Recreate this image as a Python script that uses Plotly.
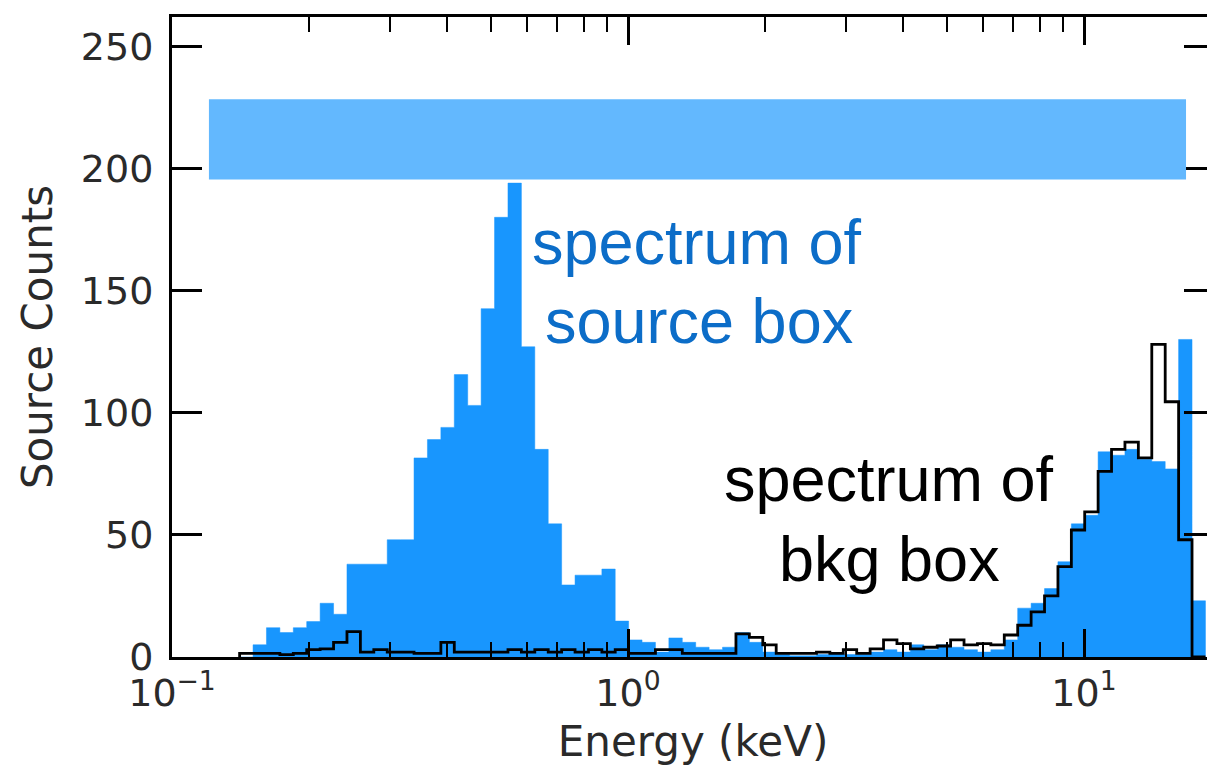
import math
import plotly.graph_objects as go

# Bin edges (keV) (log-spaced bins)
bin_edges = [
    0.14070, 0.15057, 0.16112, 0.17242, 0.18451, 0.19743, 0.21128, 0.22610,
    0.24194, 0.25890, 0.27706, 0.29648, 0.31724, 0.33944, 0.36325, 0.38871,
    0.41596, 0.44513, 0.47634, 0.50972, 0.54547, 0.58369, 0.62462, 0.66841,
    0.71525, 0.76541, 0.81906, 0.87646, 0.93745, 1.0032, 1.0735, 1.1487,
    1.2292, 1.3154, 1.4076, 1.5063, 1.6118, 1.7248, 1.8457, 1.9751,
    2.1135, 2.2617, 2.4202, 2.5898, 2.7714, 2.9657, 3.1735, 3.3960,
    3.6340, 3.8887, 4.1613, 4.4530, 4.7651, 5.0991, 5.4565, 5.8390,
    6.2483, 6.6862, 7.1549, 7.6564, 8.1930, 8.7673, 9.3818, 10.035,
    10.739, 11.492, 12.297, 13.159, 14.082, 15.069, 16.125, 17.255, 18.465,
]

# Source-box spectrum counts per bin
source_counts = [
    0, 5, 12, 10, 12, 14.5, 22, 17.5, 38, 38, 38, 48, 48,
    81.5, 89, 94, 115.6, 103, 142.6, 180, 194, 127, 85, 54.5,
    29.5, 33.5, 33.5, 36, 14.7, 7, 6, 2, 7.8, 6, 4, 3, 4, 10, 6, 2,
    1, 0.5, 0.5, 1, 1.5, 1, 1, 2, 3, 2, 5, 3, 5, 4, 3, 2, 3, 7,
    20, 22, 28, 39, 54.5, 58, 84, 82.6, 85, 81, 80, 77, 130, 23,
]

# Background-box spectrum counts per bin
bkg_counts = [
    1.5, 1.5, 1.5, 1, 1.5, 3, 3.3, 6, 10.4, 2, 3, 2, 2,
    1.5, 1.5, 6, 2, 2, 2, 2, 3, 2, 3, 2,
    3, 2, 3, 2, 3, 1.5, 1.5, 3, 3, 1.5, 1.5, 1.5, 1.5, 9.5, 8, 5,
    1.5, 1.5, 1.5, 2, 1.5, 3, 1.5, 3.3, 7, 5.5, 3.3, 4, 4.5, 7, 5, 5.5, 5, 9,
    13, 18.5, 25, 37, 52, 59.4, 76, 85, 88, 81.5, 128, 104.5, 48, 0,
]

x_tick_vals = [0.1, 1, 10]
x_tick_text = ["10<sup>\u22121</sup>", "10<sup>0</sup>", "10<sup>1</sup>"]
x_minor_vals = [0.2, 0.3, 0.4, 0.5, 0.6, 0.7, 0.8, 0.9,
                2, 3, 4, 5, 6, 7, 8, 9, 20]
y_tick_vals = [0, 50, 100, 150, 200, 250]

# text labels: (text, energy keV, counts, colour)
labels = [
    ("spectrum of", 1.417, 170.0, "#0C6DC8"),
    ("source box", 1.43, 137.5, "#0C6DC8"),
    ("spectrum of", 3.736, 72.7, "black"),
    ("bkg box", 3.736, 40.0, "black"),
]


def step_xy(edges, vals):
    xs = [edges[0]] + list(edges[:-1]) + [edges[-1], edges[-1]]
    ys = [0] + list(vals) + [vals[-1], 0]
    return xs, ys


sx, sy = step_xy(bin_edges, source_counts)
bx, by = step_xy(bin_edges, bkg_counts)

fig = go.Figure()
fig.add_trace(go.Scatter(
    x=sx, y=sy, mode="lines", line=dict(shape="hv", color="#1896FE", width=0.5),
    fill="tozeroy", fillcolor="#1896FE", showlegend=False, hoverinfo="skip"))
fig.add_trace(go.Scatter(
    x=bx, y=by, mode="lines", line=dict(shape="hv", color="black", width=2.8),
    showlegend=False, hoverinfo="skip"))

# light-blue band at top
fig.add_shape(type="rect", xref="x", yref="y", x0=0.1205, x1=16.74, y0=195.5, y1=228.3,
              fillcolor="#63B8FE", line=dict(width=0), layer="above")

ann_font = "Liberation Sans, Arial"
for txt, xv, yv, col in labels:
    fig.add_annotation(x=math.log10(xv), xref="x", y=yv, yref="y", text=txt, showarrow=False,
                       xanchor="center", yanchor="middle",
                       font=dict(family=ann_font, size=63, color=col))

tick_font = dict(family="DejaVu Sans", size=38, color="#2a2a2a")
title_font = dict(family="DejaVu Sans", size=42, color="#2a2a2a")

fig.update_xaxes(
    type="log", range=[-1, 1.2851], automargin=False,
    tickvals=x_tick_vals, ticktext=x_tick_text, tickfont=tick_font,
    ticks="inside", ticklen=28, tickwidth=2.5, tickcolor="black",
    minor=dict(tickvals=x_minor_vals, ticks="inside", ticklen=15, tickwidth=2, tickcolor="black"),
    showline=True, linewidth=3, linecolor="black", mirror="ticks",
    showgrid=False, zeroline=False,
    title=dict(text="Energy (keV)", font=title_font, standoff=14),
)
fig.update_yaxes(
    range=[0, 262], automargin=False,
    tickvals=y_tick_vals, tickfont=tick_font,
    ticks="inside", ticklen=30, tickwidth=2.5, tickcolor="black",
    showline=True, linewidth=3, linecolor="black", mirror="ticks",
    showgrid=False, zeroline=False, ticklabelstandoff=8,
    title=dict(text="Source Counts", font=title_font, standoff=16),
)

fig.update_layout(
    width=1207, height=764,
    margin=dict(l=164, r=1, t=9, b=115),
    plot_bgcolor="white", paper_bgcolor="white",
)

fig.write_html("out.html")
